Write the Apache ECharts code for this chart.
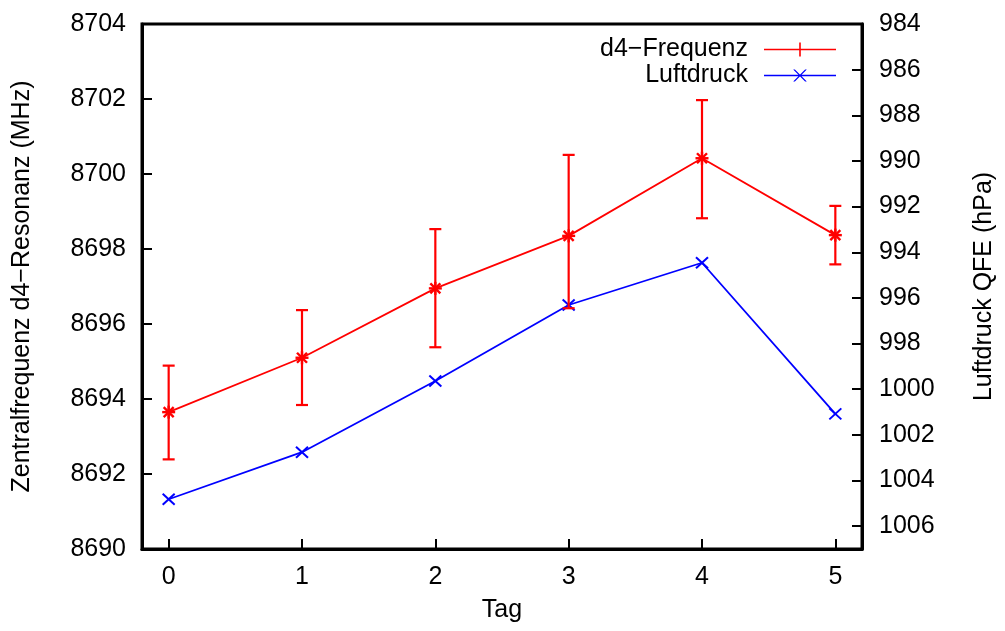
<!DOCTYPE html>
<html>
<head>
<meta charset="utf-8">
<script src="https://cdn.jsdelivr.net/npm/echarts@6/dist/echarts.min.js"></script>
<style>
html,body{margin:0;padding:0;background:#fff;}
#c{width:1005px;height:631px;}
</style>
</head>
<body>
<div id="c"></div>
<script>
// ---- data ----
const days = [0, 1, 2, 3, 4, 5];
const freq = [8693.65, 8695.10, 8696.95, 8698.35, 8700.42, 8698.37];
const freqLow = [8692.39, 8693.84, 8695.38, 8696.42, 8698.82, 8697.59];
const freqHigh = [8694.89, 8696.37, 8698.53, 8700.51, 8701.97, 8699.15];
const pressure = [1004.82, 1002.76, 999.64, 996.31, 994.46, 1001.08];
const xTicks = [0, 1, 2, 3, 4, 5];
const seriesNames = ['d4\u2212Frequenz', 'Luftdruck'];

const FONT = '"Liberation Sans", Arial, Helvetica, sans-serif';
const FS = 25;
const RED = '#ff0000', BLUE = '#0000ff';

const redIcon = 'path://M0,6.2L72,6.2L72,7.8L0,7.8Z M35.2,0L36.8,0L36.8,14L35.2,14Z';
const blueIcon = 'path://M0,5.2L72,5.2L72,6.8L0,6.8Z M29.2,0L30.9,0L42.8,12L41.1,12Z M41.1,0L42.8,0L30.9,12L29.2,12Z';

function renderErr(params, api) {
  const x = api.value(0), lo = api.value(1), hi = api.value(2);
  const p1 = api.coord([x, lo]), p2 = api.coord([x, hi]);
  const w = 6;
  const style = {stroke: RED, lineWidth: 2.2, fill: null};
  return {type: 'group', children: [
    {type: 'line', shape: {x1: p1[0], y1: p1[1], x2: p2[0], y2: p2[1]}, style: style},
    {type: 'line', shape: {x1: p1[0] - w, y1: p1[1], x2: p1[0] + w, y2: p1[1]}, style: style},
    {type: 'line', shape: {x1: p2[0] - w, y1: p2[1], x2: p2[0] + w, y2: p2[1]}, style: style}
  ]};
}
function renderStar(params, api) {
  const p = api.coord([api.value(0), api.value(1)]);
  const s = 6.5, d = 5;
  const style = {stroke: RED, lineWidth: 2.4, fill: null};
  return {type: 'group', children: [
    {type: 'line', shape: {x1: p[0] - s, y1: p[1], x2: p[0] + s, y2: p[1]}, style: style},
    {type: 'line', shape: {x1: p[0], y1: p[1] - s, x2: p[0], y2: p[1] + s}, style: style},
    {type: 'line', shape: {x1: p[0] - d, y1: p[1] - d, x2: p[0] + d, y2: p[1] + d}, style: style},
    {type: 'line', shape: {x1: p[0] - d, y1: p[1] + d, x2: p[0] + d, y2: p[1] - d}, style: style}
  ]};
}
function renderCross(params, api) {
  const p = api.coord([api.value(0), api.value(1)]);
  const sx = 6, sy = 5.5;
  const style = {stroke: BLUE, lineWidth: 2, fill: null};
  return {type: 'group', children: [
    {type: 'line', shape: {x1: p[0] - sx, y1: p[1] - sy, x2: p[0] + sx, y2: p[1] + sy}, style: style},
    {type: 'line', shape: {x1: p[0] - sx, y1: p[1] + sy, x2: p[0] + sx, y2: p[1] - sy}, style: style}
  ]};
}

const axisLineStyle = {color: '#000', width: 3};
const labelStyle = {color: '#000', fontSize: FS, fontFamily: FONT};
const nameStyle = {color: '#000', fontSize: FS, fontFamily: FONT};

const chart = echarts.init(document.getElementById('c'), null, {renderer: 'canvas'});
chart.setOption({
  animation: false,
  backgroundColor: '#fff',
  grid: {left: 142, right: 140, top: 24, bottom: 82, show: true, borderColor: '#000', borderWidth: 3},
  legend: [
    {
      data: [{name: seriesNames[0], icon: redIcon}],
      orient: 'vertical', align: 'right', right: 169, top: 37, padding: 0,
      itemWidth: 72, itemHeight: 14, selectedMode: false,
      textStyle: {color: '#000', fontSize: FS, fontFamily: FONT, padding: [0, 11, 0, 0]}
    },
    {
      data: [{name: seriesNames[1], icon: blueIcon}],
      orient: 'vertical', align: 'right', right: 169, top: 63, padding: 0,
      itemWidth: 72, itemHeight: 12, selectedMode: false,
      textStyle: {color: '#000', fontSize: FS, fontFamily: FONT, padding: [0, 11, 0, 0]}
    }
  ],
  xAxis: {
    type: 'value', min: -0.2, max: 5.2,
    name: 'Tag', nameLocation: 'middle', nameGap: 49,
    nameTextStyle: nameStyle,
    axisLine: {onZero: false, lineStyle: axisLineStyle},
    axisTick: {inside: true, length: 10, lineStyle: {color: '#000', width: 2}, customValues: xTicks},
    axisLabel: Object.assign({margin: 16, customValues: xTicks,
      formatter: function (v) { return String(v); }}, labelStyle),
    splitLine: {show: false}
  },
  yAxis: [
    {
      type: 'value', min: 8690, max: 8704, interval: 2, position: 'left',
      name: 'Zentralfrequenz d4\u2212Resonanz (MHz)', nameLocation: 'middle', nameGap: 107, nameRotate: 90,
      nameTextStyle: nameStyle,
      axisLine: {onZero: false, lineStyle: axisLineStyle},
      axisTick: {inside: true, length: 10, lineStyle: {color: '#000', width: 2}},
      axisLabel: Object.assign({margin: 16,
        formatter: function (v) { return String(v); }}, labelStyle),
      splitLine: {show: false}
    },
    {
      type: 'value', min: 984, max: 1007, interval: 2, position: 'right', inverse: true,
      name: 'Luftdruck QFE (hPa)', nameLocation: 'middle', nameGap: 110, nameRotate: 90,
      nameTextStyle: nameStyle,
      axisLine: {onZero: false, lineStyle: axisLineStyle},
      axisTick: {inside: true, length: 10, lineStyle: {color: '#000', width: 2}},
      axisLabel: Object.assign({margin: 17, showMaxLabel: false,
        formatter: function (v) { return (v % 2 === 0) ? String(v) : ''; }}, labelStyle),
      splitLine: {show: false}
    }
  ],
  series: [
    {
      name: seriesNames[1], type: 'line', yAxisIndex: 1,
      data: days.map((d, i) => [d, pressure[i]]),
      symbol: 'none', color: BLUE, lineStyle: {color: BLUE, width: 1.8}, z: 2
    },
    {
      name: 'markersBlue', type: 'custom', yAxisIndex: 1,
      data: days.map((d, i) => [d, pressure[i]]),
      encode: {x: 0, y: 1}, renderItem: renderCross, z: 3
    },
    {
      name: seriesNames[0], type: 'line', yAxisIndex: 0,
      data: days.map((d, i) => [d, freq[i]]),
      symbol: 'none', color: RED, lineStyle: {color: RED, width: 1.8}, z: 4
    },
    {
      name: 'errRed', type: 'custom', yAxisIndex: 0,
      data: days.map((d, i) => [d, freqLow[i], freqHigh[i]]),
      encode: {x: 0, y: [1, 2]}, renderItem: renderErr, z: 5
    },
    {
      name: 'markersRed', type: 'custom', yAxisIndex: 0,
      data: days.map((d, i) => [d, freq[i]]),
      encode: {x: 0, y: 1}, renderItem: renderStar, z: 6
    }
  ]
});
</script>
</body>
</html>
